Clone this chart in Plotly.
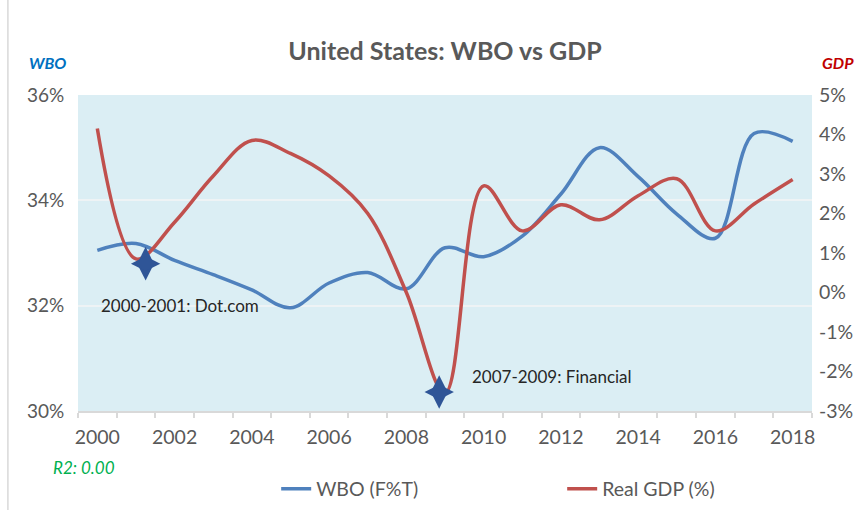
import plotly.graph_objects as go

years = list(range(2000, 2019))
wbo = [33.05, 33.18, 32.86, 32.59, 32.30, 31.96, 32.43, 32.63, 32.32, 33.10,
       32.93, 33.32, 34.12, 35.00, 34.45, 33.74, 33.28, 35.27, 35.12]
gdp = [4.15, 0.85, 1.78, 2.95, 3.85, 3.52, 2.95, 2.00, 0.0, -2.55,
       2.70, 1.56, 2.22, 1.84, 2.45, 2.88, 1.56, 2.24, 2.86]
crisis_x = [2001.25, 2008.85]
crisis_gdp = [0.73, -2.52]
crisis_labels = ["2000-2001: Dot.com", "2007-2009: Financial"]
crisis_label_x = [2000.05, 2009.65]
crisis_label_y = [32.0, 30.65]
xtick_years = list(range(2000, 2019, 2))
left_ticks = [30, 32, 34, 36]
right_ticks = [-3, -2, -1, 0, 1, 2, 3, 4, 5]

FONT = "Lato"
GRAY = "#595959"
BLUE = "#4F81BD"
RED = "#C0504D"
STAR = "#2F5597"

fig = go.Figure()
fig.add_trace(go.Scatter(x=years, y=wbo, name="WBO (F%T)", mode="lines",
                         line=dict(color=BLUE, width=3.5, shape="spline", smoothing=1.0)))
fig.add_trace(go.Scatter(x=years, y=gdp, name="Real GDP (%)", mode="lines", yaxis="y2",
                         line=dict(color=RED, width=3.5, shape="spline", smoothing=1.0)))
# four-pointed star markers built from a tall and a wide diamond
fig.add_trace(go.Scatter(x=crisis_x, y=crisis_gdp, mode="markers", yaxis="y2",
                         showlegend=False, hoverinfo="skip",
                         marker=dict(symbol="diamond-tall", size=24, color=STAR,
                                     line=dict(width=0))))
fig.add_trace(go.Scatter(x=crisis_x, y=crisis_gdp, mode="markers", yaxis="y2",
                         showlegend=False, hoverinfo="skip",
                         marker=dict(symbol="diamond-wide", size=21, color=STAR,
                                     line=dict(width=0))))

for lx, ly, t in zip(crisis_label_x, crisis_label_y, crisis_labels):
    fig.add_annotation(x=lx, y=ly, xref="x", yref="y", text=t, showarrow=False,
                       xanchor="left", yanchor="middle",
                       font=dict(family=FONT, size=17, color="#262626"))

fig.add_annotation(xref="paper", yref="paper", x=-0.042, y=1.104, text="<b><i>WBO</i></b>",
                   showarrow=False, xanchor="center", yanchor="middle",
                   font=dict(family=FONT, size=16, color="#0070C0"))
fig.add_annotation(xref="paper", yref="paper", x=1.035, y=1.104, text="<b><i>GDP</i></b>",
                   showarrow=False, xanchor="center", yanchor="middle",
                   font=dict(family=FONT, size=16, color="#C00000"))
fig.add_annotation(xref="paper", yref="paper", x=-0.037, y=-0.18, text="<i>R2: 0.00</i>",
                   showarrow=False, xanchor="left", yanchor="middle",
                   font=dict(family=FONT, size=17, color="#00B050"))

fig.add_shape(type="line", xref="paper", yref="paper", x0=-0.0955, x1=-0.0955,
              y0=-0.35, y1=1.35, line=dict(color="#D9D9D9", width=1.5))

fig.update_layout(
    width=860, height=510,
    margin=dict(l=78, r=48, t=95, b=99, autoexpand=False),
    paper_bgcolor="white",
    plot_bgcolor="#DBEEF4",
    font=dict(family=FONT, color=GRAY, size=19),
    title=dict(text="<b>United States: WBO vs GDP</b>", x=0.5, xref="paper", xanchor="center",
               y=1 - 51 / 510, yanchor="middle",
               font=dict(family=FONT, size=25, color=GRAY)),
    xaxis=dict(range=[1999.5, 2018.5], tickmode="array", tickvals=xtick_years,
               ticks="", showgrid=False, zeroline=False,
               showline=True, linecolor="#D9D9D9", linewidth=1.5,
               tickfont=dict(size=19.5, color=GRAY), ticklabelstandoff=8,
               minor=dict(tickmode="linear", tick0=1999.5, dtick=1, ticks="outside",
                          ticklen=5, tickcolor="#D9D9D9", tickwidth=1.5, showgrid=False)),
    yaxis=dict(range=[30, 36], tickmode="array", tickvals=left_ticks,
               ticktext=[f"{v}%" for v in left_ticks],
               showgrid=True, gridcolor="#EEF3F5", gridwidth=1.5, zeroline=False,
               tickfont=dict(size=19, color=GRAY), ticks="outside", ticklen=9,
               tickcolor="rgba(0,0,0,0)"),
    yaxis2=dict(range=[-3, 5], overlaying="y", side="right", tickmode="array",
                tickvals=right_ticks, ticktext=[f"{v}%" for v in right_ticks],
                showgrid=False, zeroline=False, tickfont=dict(size=19.5, color=GRAY),
                ticks="", ticklabelstandoff=6),
    legend=dict(orientation="h", x=0.27, xanchor="left", y=-0.247, yanchor="middle",
                entrywidth=241, entrywidthmode="pixels",
                font=dict(size=19.5, color=GRAY), bgcolor="rgba(0,0,0,0)"),
    showlegend=True,
)

fig.write_html("out.html", config={"displayModeBar": False},
               post_script="document.body.style.margin='0px';")
